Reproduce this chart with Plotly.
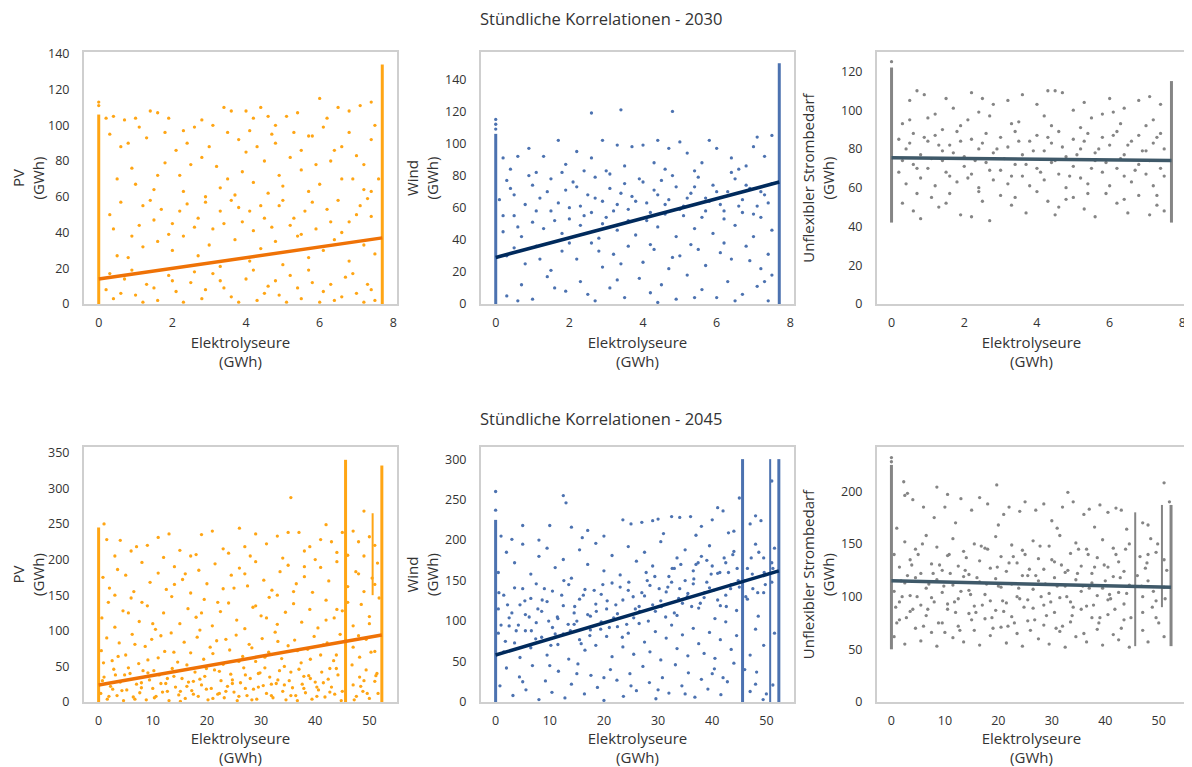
import plotly.graph_objects as go
from plotly.subplots import make_subplots

# ---- data (GWh) ----
# 2030 scatter clouds (x = Elektrolyseure, y = PV / Wind / Unflex. Strombedarf)
pv2030_pts = [
    (0.2, 104), (0.4, 105), (0.7, 103), (1.0, 104), (1.4, 108), (1.6, 107), (1.9, 104), (2.3, 97),
    (2.6, 99), (2.8, 103), (3.1, 100), (3.4, 110), (3.6, 108), (4.0, 108), (4.2, 104), (4.4, 110),
    (4.6, 105), (4.8, 100), (5.1, 105), (5.4, 107), (5.7, 94), (6.0, 115), (6.2, 104), (6.5, 110),
    (6.8, 108), (7.1, 111), (7.4, 113), (7.5, 100), (0.0, 113), (0.0, 111),
    (0.5, 70), (0.8, 90), (1.0, 67), (1.3, 93), (1.6, 72), (1.8, 79), (2.1, 86), (2.3, 63),
    (2.5, 78), (2.8, 82), (3.0, 88), (3.3, 65), (3.5, 70), (3.8, 92), (4.0, 85), (4.2, 68),
    (4.5, 80), (4.7, 95), (4.9, 72), (5.2, 82), (5.5, 75), (5.8, 94), (6.0, 67), (6.3, 80),
    (6.6, 88), (6.9, 70), (7.2, 78), (7.4, 63),
    (0.3, 50), (0.6, 57), (1.1, 44), (1.4, 58), (1.7, 53), (2.0, 45), (2.4, 56), (2.7, 48),
    (3.1, 42), (3.3, 52), (3.6, 58), (3.9, 46), (4.1, 52), (4.4, 55), (4.7, 43), (5.0, 58),
    (5.3, 48), (5.6, 52), (5.9, 42), (6.2, 53), (6.5, 58), (6.8, 46), (7.1, 55), (7.4, 49),
    (0.5, 27), (0.8, 26), (1.2, 32), (1.6, 35), (2.0, 30), (2.3, 38), (2.7, 27), (3.0, 33),
    (3.3, 21), (3.7, 36), (4.1, 24), (4.4, 31), (4.8, 35), (5.0, 22), (5.4, 38), (5.7, 26),
    (6.1, 30), (6.4, 36), (6.8, 24), (7.2, 33), (7.5, 28),
    (0.2, 8), (0.4, 3), (0.7, 14), (1.0, 5), (1.3, 11), (1.6, 2), (1.9, 16), (2.1, 7),
    (2.5, 12), (2.8, 3), (3.1, 17), (3.4, 9), (3.6, 4), (4.0, 14), (4.3, 2), (4.6, 10),
    (4.9, 5), (5.2, 16), (5.5, 3), (5.8, 12), (6.1, 7), (6.4, 2), (6.7, 15), (7.0, 6),
    (7.3, 11), (7.5, 2),
    (0.3, 95), (0.6, 88), (0.9, 76), (1.1, 99), (1.5, 64), (1.8, 96), (2.2, 72), (2.4, 90),
    (2.9, 60), (3.2, 77), (3.5, 96), (3.7, 61), (3.9, 74), (4.1, 97), (4.3, 88), (4.6, 62),
    (4.8, 90), (5.0, 66), (5.3, 96), (5.5, 86), (5.7, 63), (5.9, 78), (6.1, 99), (6.4, 86),
    (6.6, 70), (6.8, 96), (7.0, 83), (7.2, 64), (7.4, 92), (7.6, 70),
    (0.4, 42), (0.9, 38), (1.2, 55), (1.5, 47), (1.9, 39), (2.2, 52), (2.6, 43), (2.9, 57),
    (3.4, 45), (3.8, 54), (4.2, 41), (4.5, 48), (4.9, 55), (5.2, 44), (5.5, 39), (5.8, 57),
    (6.3, 46), (6.6, 40), (7.0, 50), (7.3, 59),
    (0.3, 17), (0.6, 6), (0.9, 19), (1.2, 1), (1.5, 9), (2.0, 13), (2.3, 1), (2.6, 18),
    (2.9, 8), (3.3, 13), (3.8, 1), (4.2, 19), (4.5, 6), (4.8, 13), (5.1, 1), (5.4, 9),
    (5.7, 19), (6.0, 1), (6.3, 11), (6.6, 4), (6.9, 17), (7.2, 1), (7.4, 8),
]
wind2030_pts = [
    (2.6, 119), (3.4, 121), (4.8, 120), (1.7, 102), (2.9, 102), (4.4, 102), (5.0, 101), (5.8, 102),
    (7.1, 104), (7.5, 105), (0.0, 115), (0.0, 112), (0.0, 109),
    (0.2, 91), (0.6, 92), (0.9, 97), (1.3, 92), (1.9, 87), (2.2, 95), (2.6, 91), (3.0, 83),
    (3.3, 99), (3.7, 98), (4.0, 99), (4.3, 88), (4.7, 97), (5.2, 94), (5.6, 88), (6.0, 97),
    (6.4, 91), (6.8, 86), (7.0, 98), (7.3, 92), (0.4, 84), (1.1, 82), (2.4, 83), (3.5, 86),
    (4.6, 84), (5.4, 83), (6.6, 84),
    (0.1, 65), (0.3, 77), (0.5, 68), (0.8, 62), (1.0, 74), (1.2, 66), (1.5, 78), (1.7, 63),
    (1.9, 71), (2.1, 76), (2.3, 61), (2.5, 68), (2.7, 79), (2.9, 64), (3.1, 72), (3.3, 62),
    (3.5, 75), (3.7, 67), (3.9, 78), (4.1, 63), (4.3, 71), (4.5, 77), (4.7, 65), (4.9, 73),
    (5.1, 61), (5.3, 69), (5.5, 79), (5.7, 66), (5.9, 74), (6.1, 62), (6.3, 70), (6.5, 78),
    (6.7, 65), (6.9, 72), (7.1, 61), (7.3, 68), (7.5, 75),
    (0.2, 45), (0.5, 55), (0.7, 42), (1.0, 51), (1.3, 47), (1.5, 58), (1.8, 44), (2.0, 53),
    (2.3, 49), (2.6, 57), (2.8, 41), (3.0, 54), (3.3, 46), (3.6, 59), (3.8, 43), (4.1, 52),
    (4.4, 48), (4.6, 56), (4.9, 42), (5.1, 55), (5.4, 47), (5.7, 58), (5.9, 44), (6.2, 53),
    (6.5, 49), (6.7, 57), (7.0, 42), (7.2, 54), (7.5, 46),
    (0.3, 30), (0.8, 25), (1.1, 36), (1.5, 21), (1.8, 33), (2.2, 28), (2.6, 38), (2.9, 23),
    (3.2, 31), (3.6, 36), (4.0, 26), (4.3, 34), (4.7, 22), (5.0, 30), (5.3, 37), (5.7, 24),
    (6.1, 32), (6.4, 28), (6.8, 36), (7.2, 22), (7.4, 31),
    (0.3, 5), (0.7, 12), (1.0, 3), (1.4, 17), (1.9, 8), (2.3, 14), (2.7, 2), (3.1, 10),
    (3.5, 4), (3.9, 16), (4.2, 7), (4.5, 12), (4.9, 3), (5.2, 18), (5.6, 9), (6.0, 4),
    (6.3, 14), (6.7, 6), (7.1, 11), (7.4, 2),
    (0.2, 55), (0.4, 72), (0.6, 48), (0.9, 80), (1.1, 58), (1.4, 70), (1.6, 52), (1.8, 82),
    (2.0, 60), (2.2, 73), (2.4, 55), (2.7, 66), (2.9, 50), (3.1, 81), (3.2, 58), (3.4, 69),
    (3.6, 52), (3.8, 64), (4.0, 76), (4.2, 57), (4.4, 68), (4.6, 62), (4.8, 80), (5.0, 59),
    (5.2, 66), (5.4, 73), (5.6, 54), (5.8, 64), (6.0, 70), (6.2, 58), (6.4, 82), (6.6, 61),
    (6.8, 74), (7.0, 56), (7.2, 70), (7.4, 63),
    (0.5, 35), (1.2, 28), (2.0, 38), (2.8, 33), (3.4, 25), (4.2, 37), (4.8, 29), (5.5, 34),
    (6.2, 38), (6.9, 27), (7.5, 18),
    (0.6, 2), (1.6, 10), (2.5, 6), (3.3, 15), (4.4, 1), (5.4, 4), (6.5, 2), (7.3, 14),
]
last2030_pts = [
    (0.5, 105), (0.7, 110), (0.9, 108), (1.2, 98), (1.5, 106), (1.7, 101), (2.1, 95), (2.2, 109),
    (2.5, 106), (2.8, 103), (3.2, 105), (3.6, 108), (4.0, 103), (4.3, 110), (4.5, 110), (4.7, 109),
    (5.0, 100), (5.3, 104), (5.8, 98), (6.0, 106), (6.4, 101), (6.8, 105), (7.1, 107), (7.4, 103),
    (0.3, 93), (1.0, 96), (1.9, 92), (2.7, 97), (3.5, 94), (4.4, 92), (5.5, 96), (6.3, 93), (7.2, 95),
    (0.0, 125),
    (0.2, 85), (0.4, 80), (0.6, 88), (0.8, 77), (1.0, 84), (1.2, 87), (1.4, 79), (1.6, 82),
    (1.8, 89), (2.0, 76), (2.2, 85), (2.4, 80), (2.6, 88), (2.8, 78), (3.0, 86), (3.2, 81),
    (3.4, 89), (3.6, 77), (3.8, 84), (4.0, 87), (4.2, 79), (4.4, 83), (4.6, 89), (4.8, 76),
    (5.0, 85), (5.2, 80), (5.4, 88), (5.6, 78), (5.8, 86), (6.0, 82), (6.2, 89), (6.4, 77),
    (6.6, 84), (6.8, 87), (7.0, 79), (7.2, 83), (7.4, 88), (7.5, 80),
    (0.2, 68), (0.4, 62), (0.6, 72), (0.8, 65), (1.0, 70), (1.2, 61), (1.4, 74), (1.6, 66),
    (1.8, 63), (2.0, 71), (2.2, 67), (2.4, 60), (2.6, 73), (2.8, 64), (3.0, 69), (3.2, 62),
    (3.4, 72), (3.6, 66), (3.8, 61), (4.0, 70), (4.2, 64), (4.4, 73), (4.6, 67), (4.8, 60),
    (5.0, 71), (5.2, 65), (5.4, 62), (5.6, 74), (5.8, 68), (6.0, 61), (6.2, 70), (6.4, 66),
    (6.6, 63), (6.8, 72), (7.0, 67), (7.2, 61), (7.4, 70),
    (0.3, 52), (0.6, 48), (0.8, 44), (1.1, 55), (1.3, 50), (1.6, 57), (1.9, 46), (2.2, 45),
    (2.5, 53), (2.7, 43), (3.0, 56), (3.3, 51), (3.7, 47), (4.0, 58), (4.3, 53), (4.5, 46),
    (4.8, 54), (5.0, 55), (5.3, 49), (5.6, 45), (5.9, 57), (6.2, 52), (6.5, 47), (6.8, 56),
    (7.1, 46), (7.3, 51), (7.5, 48),
    (0.3, 74), (0.5, 83), (0.7, 70), (0.9, 86), (1.1, 75), (1.3, 82), (1.5, 68), (1.7, 78),
    (1.9, 84), (2.1, 65), (2.3, 74), (2.5, 83), (2.7, 69), (2.9, 80), (3.1, 75), (3.3, 66),
    (3.5, 84), (3.7, 72), (3.9, 79), (4.1, 68), (4.3, 86), (4.5, 74), (4.7, 81), (4.9, 66),
    (5.1, 77), (5.3, 84), (5.5, 70), (5.7, 80), (5.9, 73), (6.1, 87), (6.3, 75), (6.5, 82),
    (6.7, 69), (6.9, 79), (7.1, 74), (7.3, 86), (7.5, 66),
    (0.5, 95), (1.4, 90), (2.4, 99), (3.3, 93), (4.2, 97), (5.2, 91), (6.1, 99), (7.0, 92),
    (0.7, 57), (1.5, 52), (2.4, 58), (3.4, 55), (4.6, 50), (5.4, 57), (6.4, 54), (7.3, 56),
]

# 2045 scatter clouds
pv2045_pts = [
    (1, 250), (1.5, 228), (4, 227), (7, 218), (9, 220), (11, 231), (13, 236), (15, 213),
    (18, 207), (19, 235), (21, 240), (23, 215), (26, 244), (27, 218), (29, 236), (31, 222),
    (33, 233), (35, 238), (35.5, 287), (37, 238), (39, 218), (41, 228), (42, 249), (43, 225),
    (45, 238), (47, 240), (48, 225), (49, 268), (50, 232), (51, 220), (3, 205), (6, 212),
    (12, 203), (17, 205), (24, 209), (28, 205), (34, 202), (38, 212), (44, 210), (46, 206),
    (0.8, 175), (2, 160), (3.5, 186), (5, 178), (6.5, 155), (8, 196), (9.5, 168), (11, 181),
    (12.5, 158), (14, 190), (15.5, 172), (17, 153), (18.5, 185), (20, 166), (21.5, 194), (23, 159),
    (24.5, 178), (26, 188), (27.5, 163), (29, 197), (30.5, 171), (32, 157), (33.5, 183), (35, 192),
    (36.5, 166), (38, 176), (39.5, 154), (41, 189), (42.5, 170), (44, 197), (46, 162), (47.5, 183),
    (49, 155), (50.5, 174), (51.5, 195),
    (0.6, 118), (1.8, 140), (3, 105), (4.5, 128), (6, 146), (7.5, 113), (9, 135), (10.5, 102),
    (12, 125), (13.5, 148), (15, 110), (16.5, 131), (18, 119), (19.5, 144), (21, 107), (22.5, 127),
    (24, 139), (25.5, 115), (27, 103), (28.5, 133), (30, 121), (31.5, 147), (33, 109), (34.5, 126),
    (36, 138), (37.5, 112), (39, 130), (40.5, 104), (42, 143), (43.5, 118), (45, 128), (47, 107),
    (48.5, 137), (50, 120), (51.8, 146),
    (0.5, 72), (1.5, 90), (2.5, 58), (3.8, 83), (5, 66), (6.2, 95), (7.4, 54), (8.6, 78),
    (9.8, 88), (11, 62), (12.2, 71), (13.4, 97), (14.6, 56), (15.8, 84), (17, 69), (18.2, 91),
    (19.4, 60), (20.6, 77), (21.8, 86), (23, 53), (24.2, 73), (25.4, 94), (26.6, 64), (27.8, 81),
    (29, 57), (30.2, 89), (31.4, 70), (32.6, 98), (33.8, 61), (35, 79), (36.2, 87), (37.4, 55),
    (38.6, 74), (39.8, 92), (41, 66), (42.2, 83), (43.4, 58), (44.6, 95), (47, 77), (48.2, 63),
    (49.4, 88), (51, 71),
    (0.4, 12), (1, 35), (1.6, 4), (2.2, 22), (2.8, 46), (3.4, 9), (4, 28), (4.6, 2),
    (5.2, 17), (5.8, 40), (6.4, 7), (7, 25), (7.6, 13), (8.2, 44), (8.8, 3), (9.4, 31),
    (10, 19), (10.6, 8), (11.2, 38), (11.8, 14), (12.4, 26), (13, 2), (13.6, 47), (14.2, 21),
    (14.8, 10), (15.4, 33), (16, 5), (16.6, 28), (17.2, 16), (17.8, 42), (18.4, 8), (19, 24),
    (19.6, 36), (20.2, 3), (20.8, 19), (21.4, 45), (22, 11), (22.6, 30), (23.2, 6), (23.8, 22),
    (24.4, 39), (25, 14), (25.6, 2), (26.2, 27), (26.8, 48), (27.4, 9), (28, 33), (28.6, 18),
    (29.2, 4), (29.8, 41), (30.4, 23), (31, 12), (31.6, 35), (32.2, 6), (32.8, 26), (33.4, 44),
    (34, 15), (34.6, 3), (35.2, 30), (35.8, 20), (36.4, 9), (37, 46), (37.6, 25), (38.2, 13),
    (38.8, 37), (39.4, 4), (40, 28), (40.6, 17), (41.2, 42), (41.8, 7), (42.4, 32), (43, 21),
    (43.6, 11), (44.2, 38), (44.8, 2), (47, 24), (47.6, 8), (48.2, 35), (48.8, 15), (49.4, 45),
    (50, 5), (51, 29), (51.6, 12),
    (0.9, 55), (2.6, 18), (3.6, 64), (4.8, 38), (6.7, 81), (7.9, 27), (9.1, 59), (10.2, 44),
    (11.5, 93), (12.7, 33), (13.9, 70), (15.1, 15), (16.3, 52), (17.5, 29), (18.7, 101), (19.9, 47),
    (21.1, 68), (22.3, 12), (23.5, 88), (24.7, 31), (25.9, 57), (27.1, 19), (28.3, 76), (29.5, 40),
    (30.7, 63), (31.9, 25), (33.1, 85), (34.3, 50), (35.5, 9), (36.7, 72), (37.9, 36), (39.1, 60),
    (40.3, 21), (41.5, 80), (42.7, 47), (43.9, 66), (45, 15), (46.8, 52), (48, 93), (49, 30),
    (50.3, 70), (51.4, 40), (5.5, 125), (14, 165), (22, 140), (27, 180), (31, 118), (36, 155),
    (40, 200), (44, 130), (48, 180), (50, 110),
    (0.7, 30), (1.9, 8), (3.1, 38), (4.3, 16), (5.5, 48), (6.7, 4), (7.9, 20), (9.1, 41),
    (10.3, 6), (11.5, 26), (12.7, 15), (13.9, 36), (15.1, 1), (16.3, 22), (17.5, 11), (18.7, 32),
    (19.9, 18), (21.1, 5), (22.3, 43), (23.5, 15), (24.7, 26), (25.9, 8), (27.1, 38), (28.3, 3),
    (29.5, 21), (30.7, 48), (31.9, 9), (33.1, 31), (34.3, 24), (35.5, 42), (36.7, 2), (37.9, 19),
    (39.1, 33), (40.3, 8), (41.5, 27), (42.7, 14), (43.9, 47), (47.2, 3), (48.4, 22), (49.6, 12),
    (51.2, 37), (3, 150), (8, 140), (10, 110), (16, 180), (19, 125), (25, 160), (29, 135),
    (33, 150), (38, 190), (42, 115), (46, 140), (49, 205), (51, 165),
]
wind2045_pts = [
    (1, 205), (5, 218), (8, 200), (10, 218), (12.5, 255), (13, 246), (14, 216), (17, 212),
    (20, 205), (23.5, 225), (25, 220), (27, 222), (29, 224), (30, 226), (32.5, 229), (34, 228),
    (36, 229), (38, 217), (40, 225), (41, 240), (42, 236), (44, 211), (45, 252), (47, 220),
    (48, 230), (49, 224), (51, 273), (3, 201), (16, 203), (31, 208), (37, 206), (43, 209),
    (0, 260), (0, 237),
    (0.5, 160), (2, 185), (3.5, 172), (5, 195), (6.5, 158), (8, 180), (9.5, 190), (11, 166),
    (12.5, 176), (14, 153), (15.5, 188), (17, 170), (18.5, 196), (20, 162), (21.5, 181), (23, 157),
    (24.5, 192), (26, 174), (27.5, 185), (29, 168), (30.5, 198), (32, 155), (33.5, 178), (35, 188),
    (36.5, 162), (38, 180), (39.5, 193), (41, 159), (42.5, 172), (44, 186), (46.5, 165), (48, 195),
    (49.5, 178), (51.5, 190), (33, 165), (37, 170), (40, 168), (43, 160),
    (0.5, 115), (1.5, 132), (2.5, 104), (3.5, 141), (4.5, 120), (5.5, 108), (6.5, 128), (7.5, 146),
    (8.5, 112), (9.5, 124), (10.5, 137), (11.5, 103), (12.5, 119), (13.5, 145), (14.5, 110), (15.5, 127),
    (16.5, 139), (17.5, 106), (18.5, 121), (19.5, 133), (20.5, 115), (21.5, 147), (22.5, 109), (23.5, 126),
    (24.5, 138), (25.5, 104), (26.5, 118), (27.5, 131), (28.5, 144), (29.5, 112), (30.5, 125), (31.5, 136),
    (32.5, 148), (33.5, 107), (34.5, 122), (35.5, 134), (36.5, 146), (37.5, 116), (38.5, 129), (39.5, 141),
    (40.5, 103), (41.5, 119), (42.5, 132), (43.5, 145), (44.5, 113), (46.5, 127), (47.5, 140), (48.5, 106),
    (49.5, 135), (51, 148), (28, 150), (34, 140), (39, 148), (45, 142),
    (0.5, 85), (1.5, 62), (2.5, 94), (3.5, 73), (4.5, 55), (5.5, 88), (6.5, 67), (7.5, 98),
    (8.5, 80), (9.5, 58), (10.5, 92), (11.5, 71), (12.5, 84), (13.5, 53), (14.5, 96), (15.5, 77),
    (16.5, 64), (17.5, 89), (18.5, 70), (19.5, 99), (20.5, 81), (21.5, 56), (22.5, 93), (23.5, 68),
    (24.5, 85), (25.5, 59), (26.5, 97), (27.5, 74), (28.5, 62), (29.5, 87), (30.5, 52), (31.5, 79),
    (32.5, 95), (33.5, 66), (34.5, 83), (35.5, 57), (36.5, 91), (37.5, 72), (38.5, 60), (39.5, 86),
    (40.5, 54), (41.5, 77), (42.5, 99), (43.5, 65), (44.5, 82), (47, 58), (48, 90), (49.5, 70),
    (51.5, 85),
    (0.8, 20), (2, 42), (3.2, 8), (4.4, 31), (5.6, 15), (6.8, 45), (8, 3), (9.2, 26),
    (10.4, 12), (11.6, 38), (12.8, 5), (14, 22), (15.2, 47), (16.4, 10), (17.6, 33), (18.8, 18),
    (20, 2), (21.2, 40), (22.4, 27), (23.6, 7), (24.8, 35), (26, 14), (27.2, 44), (28.4, 24),
    (29.6, 4), (30.8, 30), (32, 11), (33.2, 46), (34.4, 20), (35.6, 36), (36.8, 6), (38, 28),
    (39.2, 16), (40.4, 41), (41.6, 9), (42.8, 25), (44, 48), (47, 13), (48.2, 37), (49.4, 3),
    (51.2, 21),
    (1, 95), (2.2, 120), (3.8, 88), (5, 140), (6.2, 105), (7.4, 78), (8.6, 126), (9.8, 100),
    (11, 84), (12.2, 132), (13.4, 96), (14.6, 118), (15.8, 72), (17, 108), (18.2, 138), (19.4, 90),
    (20.6, 125), (21.8, 104), (23, 142), (24.2, 96), (25.4, 130), (26.6, 112), (27.8, 160), (29, 120),
    (30.2, 140), (31.4, 105), (32.6, 165), (33.8, 128), (35, 150), (36.2, 118), (37.4, 172), (38.6, 135),
    (39.8, 158), (41, 126), (42.2, 178), (43.4, 140), (44.6, 165), (46, 150), (47.2, 178), (48.4, 135),
    (49.6, 160), (51, 172), (20, 30), (30, 15), (40, 35), (46, 40), (50, 10), (10, 45),
    (0.6, 135), (1.8, 75), (3.0, 110), (4.2, 95), (5.4, 125), (6.6, 88), (7.8, 115), (9.0, 140),
    (10.2, 70), (11.4, 105), (12.6, 150), (13.8, 88), (15.0, 100), (16.2, 132), (17.4, 82), (18.6, 112),
    (19.8, 145), (21.0, 92), (22.2, 120), (23.4, 80), (24.6, 148), (25.8, 115), (27.0, 135), (28.2, 100),
    (29.4, 155), (30.6, 118), (31.8, 142), (33.0, 110), (34.2, 170), (35.4, 130), (36.6, 152), (37.8, 122),
    (39.0, 175), (40.2, 138), (41.4, 160), (42.6, 118), (43.8, 182), (44.8, 150), (46.2, 130), (47.4, 158),
    (48.6, 185), (49.8, 145), (51.2, 165), (5, 25), (15, 35), (25, 20), (35, 10), (42, 30), (48, 22),
]
last2045_pts = [
    (1, 165), (2.3, 209), (2.5, 196), (3, 198), (4, 192), (6, 185), (8, 175), (8.5, 204),
    (10, 185), (10.5, 197), (13, 193), (15, 182), (16.5, 194), (18, 188), (19.7, 206), (21, 178),
    (22, 185), (24, 181), (25, 190), (27, 182), (28.5, 188), (30, 172), (32, 185), (33, 199),
    (34, 190), (36, 178), (37, 183), (39, 187), (40.5, 180), (42, 184), (43, 182), (47, 170),
    (48, 168), (51, 208), (52, 190), (12, 170), (20, 168), (31, 165), (38, 166), (44, 164),
    (0, 232), (0, 228),
    (0.5, 140), (1.5, 128), (2.5, 152), (3.5, 135), (4.5, 145), (5.5, 122), (6.5, 158), (7.5, 131),
    (8.5, 147), (9.5, 125), (10.5, 139), (11.5, 155), (12.5, 129), (13.5, 143), (14.5, 121), (15.5, 150),
    (16.5, 134), (17.5, 146), (18.5, 127), (19.5, 157), (20.5, 138), (21.5, 124), (22.5, 149), (23.5, 132),
    (24.5, 144), (25.5, 120), (26.5, 153), (27.5, 136), (28.5, 126), (29.5, 148), (30.5, 133), (31.5, 158),
    (32.5, 123), (33.5, 141), (34.5, 151), (35.5, 129), (36.5, 145), (37.5, 122), (38.5, 137), (39.5, 154),
    (40.5, 128), (41.5, 146), (42.5, 133), (43.5, 124), (44.5, 150), (46.5, 138), (47.5, 127), (48.5, 155),
    (49.5, 142), (51, 135),
    (0.5, 105), (1.5, 95), (2.5, 113), (3.5, 101), (4.5, 118), (5.5, 92), (6.5, 108), (7.5, 99),
    (8.5, 116), (9.5, 104), (10.5, 93), (11.5, 111), (12.5, 98), (13.5, 119), (14.5, 106), (15.5, 91),
    (16.5, 114), (17.5, 102), (18.5, 96), (19.5, 117), (20.5, 109), (21.5, 94), (22.5, 112), (23.5, 100),
    (24.5, 120), (25.5, 97), (26.5, 107), (27.5, 115), (28.5, 92), (29.5, 103), (30.5, 118), (31.5, 99),
    (32.5, 110), (33.5, 95), (34.5, 116), (35.5, 105), (36.5, 91), (37.5, 113), (38.5, 101), (39.5, 108),
    (40.5, 97), (41.5, 119), (42.5, 104), (43.5, 93), (44.5, 111), (47, 100), (48, 115), (49.5, 96),
    (51, 109),
    (0.5, 62), (1.5, 78), (2.5, 55), (3.5, 86), (4.5, 70), (5.5, 58), (6.5, 82), (7.5, 66),
    (8.5, 53), (9.5, 75), (10.5, 88), (11.5, 61), (12.5, 72), (13.5, 57), (14.5, 84), (15.5, 68),
    (16.5, 54), (17.5, 79), (18.5, 63), (19.5, 87), (20.5, 71), (21.5, 56), (22.5, 81), (23.5, 65),
    (24.5, 53), (25.5, 77), (26.5, 89), (27.5, 60), (28.5, 73), (29.5, 55), (30.5, 85), (31.5, 67),
    (32.5, 52), (33.5, 76), (34.5, 62), (35.5, 88), (36.5, 57), (37.5, 80), (38.5, 69), (39.5, 54),
    (40.5, 83), (41.5, 64), (42.5, 59), (43.5, 78), (44.5, 52), (47, 68), (48, 57), (49.5, 80),
    (51, 62),
    (1, 75), (2, 100), (3, 120), (4, 88), (5, 140), (6, 72), (7, 112), (8, 95),
    (9, 130), (10, 66), (11, 122), (12, 85), (13, 105), (14, 137), (15, 78), (16, 118),
    (17, 92), (18, 145), (19, 70), (20, 110), (21, 86), (22, 132), (23, 75), (24, 98),
    (25, 140), (26, 68), (27, 120), (28, 100), (29, 82), (30, 135), (31, 110), (32, 72),
    (33, 125), (34, 90), (35, 145), (36, 65), (37, 108), (38, 128), (39, 80), (40, 115),
    (41, 98), (42, 140), (43, 70), (44, 103), (46, 120), (47, 85), (48, 140), (49, 105),
    (50, 75), (51.5, 125),
    (0.8, 90), (1.8, 115), (2.8, 80), (3.8, 130), (4.8, 100), (5.8, 150), (6.8, 88), (7.8, 122),
    (8.8, 75), (9.8, 110), (10.8, 140), (11.8, 95), (12.8, 68), (13.8, 125), (14.8, 102), (15.8, 85),
    (16.8, 148), (17.8, 112), (18.8, 80), (19.8, 128), (20.8, 96), (21.8, 72), (22.8, 138), (23.8, 108),
    (24.8, 90), (25.8, 126), (26.8, 78), (27.8, 148), (28.8, 112), (29.8, 95), (30.8, 70), (31.8, 130),
    (32.8, 100), (33.8, 82), (34.8, 122), (35.8, 110), (36.8, 140), (37.8, 92), (38.8, 75), (39.8, 130),
    (40.8, 102), (41.8, 88), (42.8, 118), (43.8, 145), (44.8, 80), (46.8, 110), (47.8, 132), (48.8, 90),
    (49.8, 150), (51.2, 98),
]

# dense stacks of hours at a fixed electrolyser load: (x, y_min, y_max)
pv2030_cols = [(0.0, 0, 106), (7.7, 0, 134)]
wind2030_cols = [(0.0, 0, 106), (7.7, 0, 150)]
last2030_cols = [(0.0, 42, 122), (7.7, 42, 115)]
pv2045_cols = [(0.0, 0, 245), (45.6, 0, 340), (52.3, 0, 332)]
wind2045_cols = [(0.0, 0, 225), (45.6, 0, 300), (52.3, 0, 300)]
last2045_cols = [(0.0, 50, 225), (52.3, 53, 187)]
# looser stacks (drawn thinner)
pv2045_loose = [(50.6, 150, 265)]
wind2045_loose = [(50.7, 0, 300)]
last2045_loose = [(45.6, 53, 180), (50.6, 90, 187)]

# linear fits: (x0, y0), (x1, y1)
pv2030_fit = [(0.0, 14), (7.7, 37)]
wind2030_fit = [(0.0, 29), (7.7, 76)]
last2030_fit = [(0.0, 75.5), (7.7, 74)]
pv2045_fit = [(0.0, 24), (52.3, 94)]
wind2045_fit = [(0.0, 58), (52.3, 162)]
last2045_fit = [(0.0, 115), (52.3, 109)]

y_titles = ["PV<br>(GWh)", "Wind<br>(GWh)", "Unflexibler Strombedarf<br>(GWh)"]
row_titles = ["Stündliche Korrelationen - 2030", "Stündliche Korrelationen - 2045"]

panels = [
    (1, 1, pv2030_pts, pv2030_cols, [], pv2030_fit, "#FFA514", "#EF7206"),
    (1, 2, wind2030_pts, wind2030_cols, [], wind2030_fit, "#4C72B0", "#002A5C"),
    (1, 3, last2030_pts, last2030_cols, [], last2030_fit, "#858585", "#3F5969"),
    (2, 1, pv2045_pts, pv2045_cols, pv2045_loose, pv2045_fit, "#FFA514", "#EF7206"),
    (2, 2, wind2045_pts, wind2045_cols, wind2045_loose, wind2045_fit, "#4C72B0", "#002A5C"),
    (2, 3, last2045_pts, last2045_cols, last2045_loose, last2045_fit, "#858585", "#3F5969"),
]
y_ranges = {(1, 1): [0, 141], (1, 2): [0, 157], (1, 3): [0, 130],
            (2, 1): [0, 358], (2, 2): [0, 315], (2, 3): [0, 242]}
y_ticks = {(1, 1): 20, (1, 2): 20, (1, 3): 20, (2, 1): 50, (2, 2): 50, (2, 3): 50}


def segments(cols):
    sx, sy = [], []
    for x, lo, hi in cols:
        sx += [x, x, None]
        sy += [lo, hi, None]
    return sx, sy


fig = make_subplots(rows=2, cols=3)

for r, c, pts, cols, loose, fit, pcol, lcol in panels:
    fig.add_trace(go.Scatter(
        x=[p[0] for p in pts], y=[p[1] for p in pts], mode="markers",
        marker=dict(size=3.3, color=pcol), showlegend=False, hoverinfo="skip"), row=r, col=c)
    cx, cy = segments(cols)
    fig.add_trace(go.Scatter(x=cx, y=cy, mode="lines", line=dict(color=pcol, width=3),
                             showlegend=False, hoverinfo="skip"), row=r, col=c)
    if loose:
        lx, ly = segments(loose)
        fig.add_trace(go.Scatter(x=lx, y=ly, mode="lines", line=dict(color=pcol, width=2),
                                 showlegend=False, hoverinfo="skip"), row=r, col=c)
    fig.add_trace(go.Scatter(x=[f[0] for f in fit], y=[f[1] for f in fit], mode="lines",
                             line=dict(color=lcol, width=3.5), showlegend=False), row=r, col=c)

# the page adds an 8 px body margin, so the figure is laid out 8 px smaller
OFF = 8
W, H = 1192 - OFF, 767 - OFF
col_px = [(84, 397), (481, 794), (877, 1186)]
row_px = [(52, 304), (447, 702)]

for r in (1, 2):
    for c in (1, 2, 3):
        idx = (r - 1) * 3 + c
        xa = "xaxis" if idx == 1 else f"xaxis{idx}"
        ya = "yaxis" if idx == 1 else f"yaxis{idx}"
        x0, x1 = col_px[c - 1]
        y0, y1 = row_px[r - 1]
        xr = [-0.4, 8.1] if r == 1 else [-2.7, 55.1]
        fig.layout[xa].update(
            domain=[(x0 - OFF) / W, (x1 - OFF) / W], range=xr, dtick=2 if r == 1 else 10,
            automargin=False,
            showline=True, mirror=True, linecolor="#cfcfcf", linewidth=2,
            showgrid=False, zeroline=False, ticks="", ticklabelstandoff=6,
            tickfont=dict(size=12.5, color="#333333"),
            title=dict(text="Elektrolyseure<br>(GWh)", font=dict(size=15, color="#333333"), standoff=7))
        fig.layout[ya].update(
            domain=[1 - (y1 - OFF) / H, 1 - (y0 - OFF) / H], range=y_ranges[(r, c)],
            dtick=y_ticks[(r, c)], automargin=False,
            showline=True, mirror=True, linecolor="#cfcfcf", linewidth=2,
            showgrid=False, zeroline=False, ticks="", ticklabelstandoff=10,
            tickfont=dict(size=12.5, color="#333333"),
            title=dict(text=y_titles[c - 1], font=dict(size=15, color="#333333"),
                       standoff=8 if c == 1 else 3))

for py, t in zip([19, 418], row_titles):
    fig.add_annotation(text=t, x=(601 - OFF) / W, y=1 - (py - OFF) / H, xref="paper", yref="paper",
                       xanchor="center", yanchor="middle",
                       showarrow=False, font=dict(size=16.5, color="#333333"))

fig.update_layout(
    width=W, height=H, margin=dict(l=0, r=0, t=0, b=0),
    plot_bgcolor="white", paper_bgcolor="white",
    font=dict(family="Open Sans, Noto Sans, sans-serif", color="#333333"),
)

fig.write_html("out.html")
